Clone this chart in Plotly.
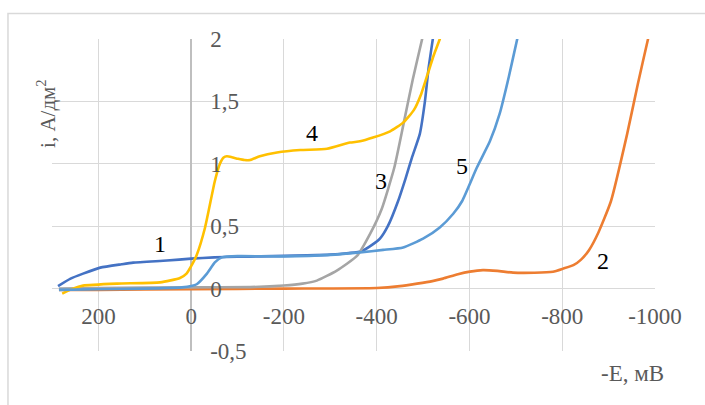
import plotly.graph_objects as go

# Curve 1 (blue)
x1 = [287, 260, 233, 196, 150, 125, 52, 0, -50, -100, -150, -200, -250, -300, -340, -368, -390, -407, -424, -446, -462, -476, -493, -504, -512, -521, -525]
y1 = [0.02, 0.08, 0.12, 0.168, 0.195, 0.208, 0.225, 0.24, 0.25, 0.255, 0.258, 0.262, 0.266, 0.272, 0.285, 0.30, 0.35, 0.40, 0.50, 0.70, 0.88, 1.05, 1.24, 1.5, 1.77, 2.0, 2.1]
# Curve 2 (orange)
x2 = [285, 200, 0, -200, -400, -450, -487, -520, -543, -575, -601, -629, -660, -694, -740, -780, -802, -825, -840, -858, -878, -905, -940, -963, -985, -992]
y2 = [-0.01, -0.01, -0.005, 0.0, 0.005, 0.02, 0.04, 0.06, 0.08, 0.115, 0.136, 0.148, 0.142, 0.128, 0.127, 0.135, 0.16, 0.19, 0.23, 0.31, 0.45, 0.70, 1.24, 1.64, 2.0, 2.1]
# Curve 3 (gray)
x3 = [285, 200, 0, -127, -200, -240, -271, -314, -358, -386, -411, -438, -459, -478, -498, -502]
y3 = [0.0, 0.005, 0.01, 0.012, 0.025, 0.04, 0.064, 0.144, 0.264, 0.44, 0.64, 0.97, 1.34, 1.68, 2.0, 2.06]
# Curve 4 (gold)
x4 = [278, 255, 233, 160, 67, 24, 10, 0, -12, -30, -51, -62, -70, -77, -90, -101, -115, -127, -148, -185, -235, -293, -342, -364, -392, -429, -457, -480, -496, -510, -523, -536, -540]
y4 = [-0.04, 0.0, 0.024, 0.04, 0.05, 0.085, 0.12, 0.18, 0.27, 0.49, 0.86, 1.0, 1.05, 1.06, 1.05, 1.04, 1.03, 1.03, 1.06, 1.09, 1.11, 1.12, 1.17, 1.18, 1.21, 1.26, 1.33, 1.43, 1.56, 1.72, 1.87, 2.0, 2.05]
# Curve 5 (light blue)
x5 = [285, 200, 100, 20, 0, -12, -34, -51, -66, -100, -200, -300, -364, -414, -457, -500, -536, -565, -584, -616, -644, -665, -685, -703, -707]
y5 = [-0.01, -0.005, 0.0, 0.01, 0.02, 0.035, 0.12, 0.21, 0.25, 0.26, 0.258, 0.27, 0.29, 0.31, 0.33, 0.40, 0.49, 0.60, 0.70, 0.97, 1.18, 1.40, 1.70, 2.0, 2.06]

series = [
    (x1, y1, "#4472C4"),
    (x2, y2, "#ED7D31"),
    (x3, y3, "#A5A5A5"),
    (x4, y4, "#FFC000"),
    (x5, y5, "#5B9BD5"),
]

x_tickvals = [200, 0, -200, -400, -600, -800, -1000]
x_ticktext = ["200", "0", "-200", "-400", "-600", "-800", "-1000"]
y_tickvals = [-0.5, 0, 0.5, 1, 1.5, 2]
y_ticktext = ["-0,5", "0", "0,5", "1", "1,5", "2"]

curve_labels = ["1", "2", "3", "4", "5"]
label_x = [67, -888, -409, -261, -584]
label_y = [0.36, 0.224, 0.864, 1.25, 0.98]

SERIF = "Liberation Serif"

fig = go.Figure()
for xs, ys, col in series:
    fig.add_trace(go.Scatter(x=xs, y=ys, mode="lines", line=dict(color=col, width=2.6, shape="spline", smoothing=0.5),
                             showlegend=False, hoverinfo="skip"))

for t, lx, ly in zip(curve_labels, label_x, label_y):
    fig.add_annotation(x=lx, y=ly, text=t, showarrow=False, font=dict(family=SERIF, size=24, color="#000000"))

fig.add_annotation(xref="paper", yref="paper", x=-0.035, y=0.878, text="i, А/дм<sup>2</sup>", textangle=-90,
                   showarrow=False, font=dict(family=SERIF, size=21, color="#595959"))
fig.add_annotation(xref="paper", yref="paper", x=1.018, y=-0.119, text="-E, мВ",
                   showarrow=False, font=dict(family=SERIF, size=23, color="#595959"))

fig.add_shape(type="rect", xref="paper", yref="paper", x0=-0.073, x1=1.2, y0=-0.3, y1=1.0816,
              line=dict(color="#D9D9D9", width=1.5), fillcolor="rgba(0,0,0,0)", layer="below")

fig.update_layout(
    width=705, height=405,
    margin=dict(l=52, r=50, t=39, b=54),
    paper_bgcolor="white", plot_bgcolor="white",
    showlegend=False,
    font=dict(family=SERIF),
    xaxis=dict(range=[300, -1000], tickvals=x_tickvals, ticktext=x_ticktext,
               showgrid=True, gridcolor="#D9D9D9", gridwidth=1,
               zeroline=True, zerolinecolor="#BFBFBF", zerolinewidth=1.5,
               showline=False, ticks="", anchor="free", position=0.2, side="bottom",
               ticklabelstandoff=11, automargin=False,
               tickfont=dict(family=SERIF, size=23, color="#595959")),
    yaxis=dict(range=[-0.5, 2], tickvals=y_tickvals, ticktext=y_ticktext,
               showgrid=True, gridcolor="#D9D9D9", gridwidth=1,
               zeroline=True, zerolinecolor="#D9D9D9", zerolinewidth=1,
               showline=False, ticks="", anchor="free", position=300/1300, side="right",
               ticklabelstandoff=18, automargin=False,
               tickfont=dict(family=SERIF, size=23, color="#595959")),
)

fig.write_html("out.html")
